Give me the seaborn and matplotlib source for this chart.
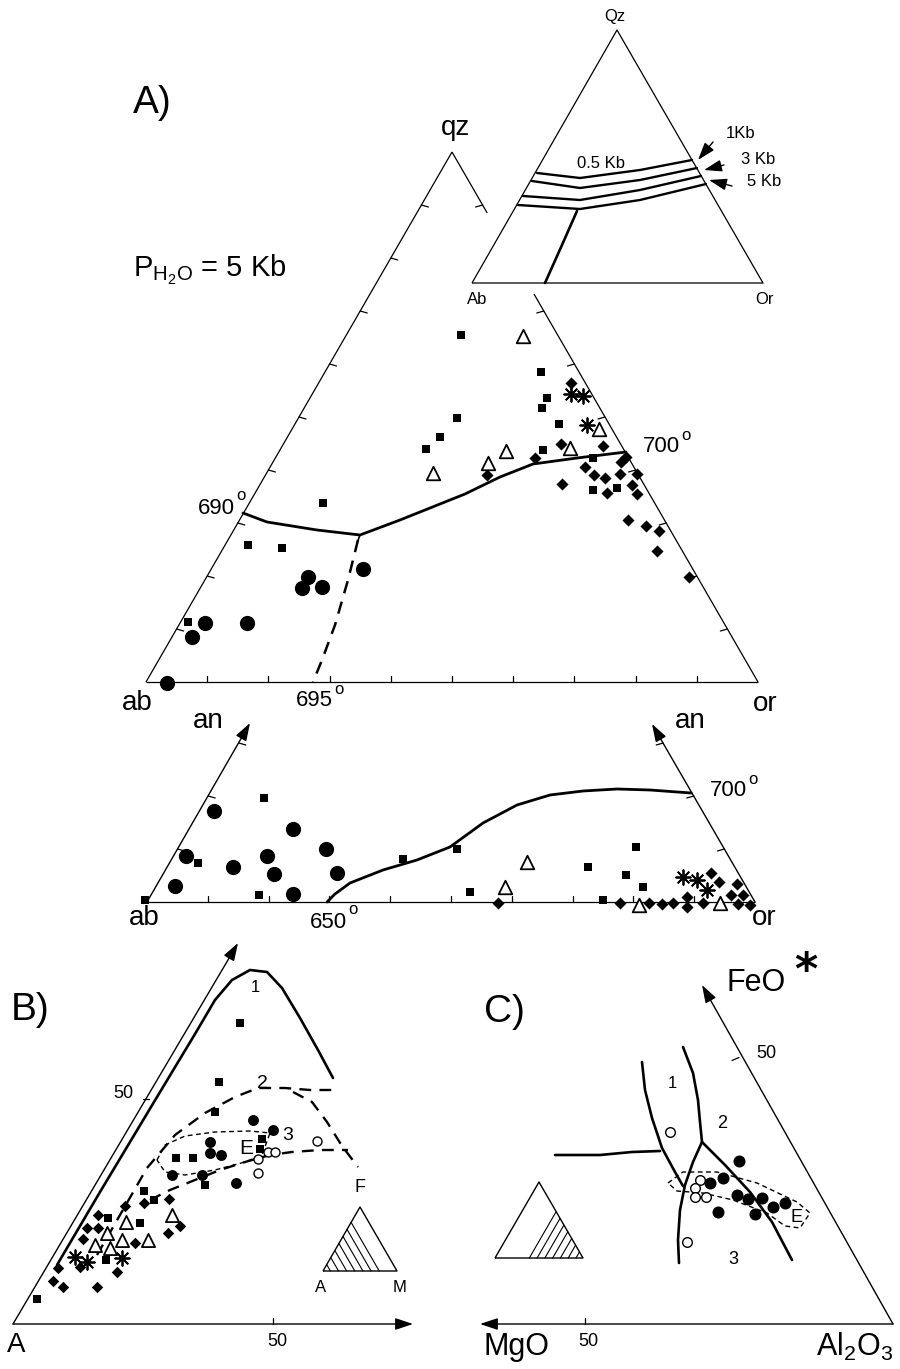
import matplotlib
matplotlib.use("Agg")
import matplotlib.pyplot as plt
import numpy as np
import pandas as pd
import seaborn as sns

# ---- A) upper triangle qz - ab - or ----
top_squares = [(461, 335), (457, 418), (440, 437), (426, 449), (323, 503), (248, 545),
               (282, 548), (188, 622), (541, 372), (547, 398), (542, 408), (559, 424),
               (543, 450), (593, 490), (617, 488), (593, 458)]
top_diamonds = [(487, 475), (535, 458), (571, 383), (561, 444), (603, 446), (585, 467),
                (594, 475), (605, 478), (621, 462), (626, 457), (620, 474), (637, 474),
                (632, 485), (637, 494), (607, 493), (562, 484), (628, 520), (646, 526),
                (659, 531), (657, 551), (689, 577)]
top_circles = [(363, 569), (308, 577), (302, 588), (322, 587), (205, 623), (192, 637),
               (247, 623), (167, 683)]
top_triangles = [(523, 336), (599, 429), (570, 448), (506, 451), (488, 463), (433, 473)]
top_stars = [(571, 394), (583, 396), (587, 425)]
top_cotectic = [(243, 513), (267, 522), (317, 530), (360, 535), (400, 520), (430, 508),
                (465, 494), (500, 477), (533, 464), (577, 458), (626, 452)]
top_dashed = [(358, 540), (348, 580), (335, 625), (322, 660), (313, 682)]

# inset Qz - Ab - Or with the pressure curves
inset_05kb = [(537, 173), (580, 178), (640, 170), (692, 160)]
inset_1kb = [(532, 181), (580, 188), (640, 180), (697, 168)]
inset_3kb = [(523, 196), (580, 200), (640, 190), (701, 176)]
inset_5kb = [(518, 205), (580, 209), (640, 200), (706, 184)]
inset_stem = [(577, 211), (562, 245), (545, 283)]

# ---- A) lower triangle ab - an - or ----
low_circles = [(214, 811), (186, 856), (175, 886), (233, 867), (293, 829), (267, 856),
               (274, 874), (293, 894), (326, 849), (337, 873)]
low_squares = [(264, 798), (198, 863), (259, 895), (145, 900), (403, 859), (457, 849),
               (470, 892), (588, 867), (626, 875), (636, 847), (643, 887), (603, 900)]
low_triangles = [(527, 862), (505, 887), (639, 905), (720, 903)]
low_diamonds = [(498, 903), (620, 903), (649, 903), (662, 904), (673, 903), (687, 897),
                (687, 907), (703, 903), (711, 873), (719, 882), (737, 884), (731, 895),
                (743, 895), (738, 904), (750, 905)]
low_stars = [(683, 877), (697, 880), (707, 890)]
low_cotectic = [(327, 902), (335, 894), (350, 883), (383, 870), (417, 860), (450, 847),
                (483, 823), (517, 805), (550, 795), (583, 791), (617, 789), (650, 790),
                (691, 793)]

# ---- B) A - F - M ----
b_squares = [(240, 1023), (219, 1082), (215, 1112), (262, 1139), (260, 1149), (176, 1158),
             (193, 1158), (205, 1185), (144, 1191), (154, 1200), (108, 1218), (140, 1223),
             (106, 1260), (37, 1299)]
b_circles = [(253, 1120), (273, 1130), (210, 1142), (210, 1153), (221, 1155), (172, 1175),
             (202, 1175), (236, 1183)]
b_open = [(258, 1159), (268, 1152), (275, 1152), (258, 1173), (317, 1141)]
b_diamonds = [(169, 1199), (144, 1203), (125, 1206), (98, 1215), (87, 1228), (98, 1228),
              (83, 1239), (168, 1233), (180, 1226), (135, 1243), (80, 1267), (117, 1272),
              (58, 1268), (53, 1281), (63, 1287), (97, 1287)]
b_triangles = [(126, 1222), (172, 1215), (107, 1233), (122, 1240), (148, 1240), (95, 1245),
               (110, 1248)]
b_stars = [(75, 1257), (87, 1262), (122, 1258)]
b_curve1 = [(57, 1265), (100, 1192), (154, 1102), (195, 1034), (215, 1000), (232, 980),
            (250, 970), (267, 972), (282, 988), (300, 1018), (318, 1050), (333, 1078)]
b_curve2 = [(97, 1255), (120, 1215), (147, 1168), (175, 1135), (205, 1113), (235, 1097),
            (258, 1088), (285, 1088), (310, 1090), (333, 1090)]
b_curve2_tail = [(293, 1092), (312, 1102), (327, 1122), (342, 1146), (358, 1167)]
b_curve3 = [(150, 1200), (170, 1190), (195, 1180), (220, 1170), (245, 1162), (270, 1155),
            (292, 1152), (320, 1150), (348, 1150)]
b_field_e = [(157, 1160), (165, 1145), (185, 1136), (215, 1132), (250, 1131), (270, 1133),
             (262, 1155), (245, 1162), (215, 1170), (185, 1175), (165, 1172), (157, 1160)]

# ---- C) MgO - FeO* - Al2O3 ----
c_circles = [(739, 1161), (723, 1178), (710, 1183), (737, 1195), (748, 1199), (762, 1198),
             (773, 1207), (785, 1203), (755, 1214), (718, 1212)]
c_open = [(670, 1132), (687, 1242), (700, 1180), (695, 1188), (695, 1197), (706, 1197)]
c_left = [(642, 1062), (645, 1090), (652, 1118), (662, 1148), (675, 1172), (683, 1186)]
c_horiz = [(555, 1155), (600, 1155), (632, 1152), (660, 1151)]
c_upper = [(683, 1047), (693, 1073), (698, 1100), (700, 1122), (702, 1142)]
c_lower = [(702, 1142), (693, 1162), (685, 1185), (680, 1210), (678, 1240), (679, 1263)]
c_right = [(702, 1142), (725, 1165), (750, 1192), (772, 1222), (792, 1260)]
c_field_e = [(668, 1183), (683, 1172), (717, 1172), (757, 1183), (797, 1202), (810, 1213),
             (800, 1228), (785, 1226), (767, 1213), (733, 1200), (703, 1193), (677, 1191),
             (668, 1183)]

sns.set_theme(style="white")
plt.rcParams['font.family'] = ['Liberation Sans', 'DejaVu Sans']
plt.rcParams['text.color'] = 'black'
plt.rcParams['mathtext.fontset'] = 'custom'
plt.rcParams['mathtext.rm'] = 'Liberation Sans'
plt.rcParams['mathtext.it'] = 'Liberation Sans:italic'

fig = plt.figure(figsize=(9, 13.69), dpi=100)
ax = fig.add_axes([0, 0, 1, 1])


def frame(*pts, lw=0.9):
    xs, ys = zip(*pts)
    ax.plot(xs, ys, color='black', lw=lw, solid_capstyle='butt', zorder=2)


def curve(pts, lw=1.9, ls='-'):
    df = pd.DataFrame(pts, columns=['x', 'y'])
    sns.lineplot(data=df, x='x', y='y', sort=False, estimator=None, color='black',
                 lw=lw, linestyle=ls, ax=ax, zorder=3)


def points(pts, marker, size, face='black', lw=0.0):
    df = pd.DataFrame(pts, columns=['x', 'y'])
    sns.scatterplot(data=df, x='x', y='y', marker=marker, s=size, color=face,
                    edgecolor='black', linewidth=lw, ax=ax, zorder=5, legend=False)


def stars(pts, size):
    df = pd.DataFrame(pts, columns=['x', 'y'])
    sns.scatterplot(data=df, x='x', y='y', marker=(8, 2, 0), s=size, color='black',
                    linewidth=1.3, ax=ax, zorder=5, legend=False)


def ticks(p0, p1, fracs, vec):
    p0, p1 = np.array(p0, float), np.array(p1, float)
    for f in fracs:
        p = p0 + f * (p1 - p0)
        ax.plot([p[0], p[0] + vec[0]], [p[1], p[1] + vec[1]], color='black', lw=0.9, zorder=2)


def arrow(p0, p1):
    ax.annotate('', xy=p1, xytext=p0,
                arrowprops=dict(arrowstyle='-|>,head_length=0.9,head_width=0.3',
                                color='black', lw=1.0, shrinkA=0, shrinkB=0))


def label(x, y, s, size, **kw):
    ax.text(x, y, s, fontsize=size, ha='center', va='center', color='black', **kw)


def degree(x_right, y, num):
    # temperature label: number ending at x_right, small raised "o"
    ax.text(x_right, y, num, fontsize=16, ha='right', va='center')
    ax.text(x_right + 6, y - 12, 'o', fontsize=12, ha='center', va='center')


# ---- A) upper triangle ----
AB, OR, QZ = (146, 682), (758, 682), (452, 152)
frame(AB, QZ)
frame(AB, OR)
qz, orv = np.array(QZ, float), np.array(OR, float)
frame(QZ, tuple(qz + 0.115 * (orv - qz)))
frame(tuple(qz + 0.268 * (orv - qz)), OR)
tenths = np.arange(1, 10) / 10
ticks(AB, QZ, tenths, (7, 2))
ticks(OR, QZ, [0.1, 0.2, 0.3, 0.4, 0.5, 0.6, 0.7, 0.9], (-7, 2))
ticks(AB, OR, tenths, (0, -6))
curve(top_cotectic, lw=2.0)
curve(top_dashed, lw=1.8, ls=(0, (5, 3.5)))
ax.plot([360, 357], [535, 543], color='black', lw=1.2)

points(top_squares, 's', 38)
points(top_diamonds, 'D', 38)
points(top_circles, 'o', 120)
points(top_triangles, '^', 95, face='white', lw=1.3)
stars(top_stars, 110)

label(152, 103, 'A)', 28)
label(455, 128, 'qz', 20)
ax.text(133, 270, r'P$_{\mathrm{H_2O}}$ = 5 Kb', fontsize=21, ha='left', va='center')
label(137, 703, 'ab', 20)
label(765, 704, 'or', 20)
degree(235, 508, '690')
degree(333, 701, '695')
degree(680, 447, '700')

# inset
IAB, IOR, IQZ = (472, 283), (763, 283), (617, 30)
frame(IAB, IOR, IQZ, IAB)
for c in (inset_05kb, inset_1kb, inset_3kb, inset_5kb):
    curve(c, lw=1.7)
curve(inset_stem, lw=1.9)
label(615, 16, 'Qz', 12)
label(477, 300, 'Ab', 12)
label(765, 300, 'Or', 12)
label(601, 164, '0.5 Kb', 12)
label(741, 134, '1Kb', 12)
label(758, 159, '3 Kb', 12)
label(764, 182, '5 Kb', 12)
arrow((713, 142), (698, 160))
arrow((724, 165), (704, 170))
arrow((732, 186), (709, 180))

# ---- A) lower triangle ----
LAB, LOR = (147, 902), (755, 902)
frame(LAB, LOR)
arrow(LAB, (250, 723))
arrow(LOR, (652, 724))
lab_v, lor_v = np.array(LAB, float), np.array(LOR, float)
left_dir = lab_v + np.array([306, -530])
right_dir = lor_v + np.array([-306, -530])
ticks(LAB, left_dir, [0.1, 0.2, 0.3], (7, 2))
ticks(LOR, right_dir, [0.1, 0.2, 0.3], (-7, 2))
ticks(LAB, LOR, tenths, (0, -6))
curve(low_cotectic, lw=2.0)

points(low_squares, 's', 38)
points(low_diamonds, 'D', 38)
points(low_circles, 'o', 120)
points(low_triangles, '^', 95, face='white', lw=1.3)
stars(low_stars, 110)

label(208, 721, 'an', 20)
label(690, 721, 'an', 20)
label(144, 918, 'ab', 20)
label(764, 918, 'or', 20)
degree(347, 922, '650')
degree(747, 791, '700')

# ---- B) ----
BA = (13, 1324)
arrow(BA, (238, 943))
arrow(BA, (413, 1324))
ticks(BA, (273, 874), [0.5], (6, 0))
ticks(BA, (533, 1324), [0.5], (0, -6))
curve(b_curve1, lw=1.9)
curve(b_curve2, lw=1.7, ls=(0, (5, 3.5)))
curve(b_curve2_tail, lw=1.7, ls=(0, (5, 3.5)))
curve(b_curve3, lw=1.7, ls=(0, (5, 3.5)))
curve(b_field_e, lw=1.0, ls=(0, (3.5, 2.5)))

points(b_squares, 's', 36)
points(b_diamonds, 'D', 34)
points(b_circles, 'o', 62)
points(b_open, 'o', 42, face='white', lw=1.0)
points(b_triangles, '^', 90, face='white', lw=1.3)
stars(b_stars, 110)

label(30, 1010, 'B)', 28)
label(255, 987, '1', 12)
label(262, 1083, '2', 14)
label(288, 1135, '3', 14)
label(246, 1148, 'E', 15)
label(123, 1093, '50', 13)
label(277, 1342, '50', 13)
label(16, 1345, 'A', 20)

# small A-F-M key triangle, hatched near A
kA, kM, kF = np.array([323, 1271.0]), np.array([397, 1271.0]), np.array([360, 1207.0])
frame(tuple(kA), tuple(kM), tuple(kF), tuple(kA), lw=1.0)
for t in np.linspace(0.1, 0.76, 7):
    p, q = kA + t * (kM - kA), kA + t * (kF - kA)
    ax.plot([p[0], q[0]], [p[1], q[1]], color='black', lw=0.8)
label(360, 1188, 'F', 13)
label(321, 1287, 'A', 12)
label(400, 1287, 'M', 12)

# ---- C) ----
CAL = (893, 1324)
arrow(CAL, (480, 1324))
arrow(CAL, (702, 985))
ticks(CAL, (277, 1324), [0.5], (0, -6))
ticks(CAL, (585, 791), [0.5], (-7, 3))
for c in (c_left, c_horiz, c_upper, c_lower, c_right):
    curve(c, lw=1.9)
curve(c_field_e, lw=1.0, ls=(0, (3.5, 2.5)))

points(c_circles, 'o', 75)
points(c_open, 'o', 48, face='white', lw=1.0)

label(504, 1012, 'C)', 28)
label(756, 983, 'FeO', 22)
ax.text(806, 972, '*', fontsize=32, fontweight='bold', ha='center', va='center',
        color='black', family=['DejaVu Sans'])
label(517, 1347, 'MgO', 22)
label(855, 1347, r'Al$_2$O$_3$', 22)
label(588, 1341, '50', 13)
label(766, 1054, '50', 13)
label(672, 1084, '1', 12)
label(722, 1123, '2', 13)
label(733, 1259, '3', 13)
label(797, 1217, 'E', 13)

# small MgO-FeO-Al2O3 key triangle, hatched near Al2O3
kL, kR, kT = np.array([495, 1258.0]), np.array([583, 1258.0]), np.array([539, 1182.0])
frame(tuple(kL), tuple(kR), tuple(kT), tuple(kL), lw=1.0)
for t in np.linspace(0.08, 0.61, 7):
    p, q = kR + t * (kL - kR), kR + t * (kT - kR)
    ax.plot([p[0], q[0]], [p[1], q[1]], color='black', lw=0.8)

ax.set_xlim(0, 900)
ax.set_ylim(1369, 0)
ax.axis('off')
fig.savefig('out.png', dpi=100, facecolor='white')
